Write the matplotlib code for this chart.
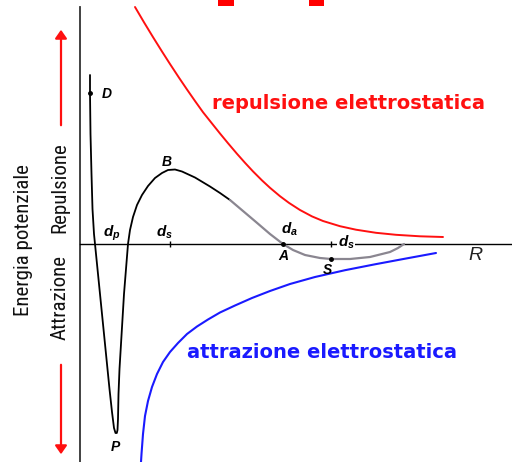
import numpy as np
import matplotlib.pyplot as plt
from matplotlib.patches import Rectangle

plt.rcParams['mathtext.fontset'] = 'custom'
plt.rcParams['mathtext.it'] = 'Liberation Sans:italic:bold'
plt.rcParams['mathtext.rm'] = 'Liberation Sans:bold'

# energia totale (buca P, barriera B, minimo secondario S)
tot_R = [0.100, 0.100, 0.105, 0.115, 0.125, 0.140, 0.155, 0.190, 0.225, 0.260, 0.295,
         0.320, 0.340, 0.355, 0.368, 0.375, 0.380, 0.385, 0.395, 0.410, 0.425, 0.440,
         0.460, 0.480, 0.500, 0.530, 0.570, 0.620, 0.680, 0.750, 0.820, 0.880, 0.950,
         1.020, 1.150, 1.300, 1.400, 1.500]
tot_E = [1.69, 1.51, 1.10, 0.70, 0.35, 0.10, -0.05, -0.40, -0.75, -1.10, -1.45,
         -1.68, -1.84, -1.89, -1.89, -1.86, -1.75, -1.50, -1.25, -1.00, -0.75, -0.50,
         -0.25, 0.00, 0.14, 0.27, 0.39, 0.49, 0.58, 0.66, 0.71, 0.74, 0.745,
         0.725, 0.665, 0.575, 0.51, 0.44]
coda_R = [1.50, 1.63, 1.76, 1.90, 2.03, 2.13, 2.25, 2.40, 2.51, 2.70, 2.90, 3.10, 3.18, 3.24]
coda_E = [0.44, 0.33, 0.22, 0.10, 0.00, -0.06, -0.11, -0.14, -0.15, -0.15, -0.13, -0.08, -0.04, 0.00]

# repulsione elettrostatica
rep_R = [0.55, 0.64, 0.73, 0.82, 0.90, 0.99, 1.07, 1.15, 1.23, 1.32, 1.40, 1.48, 1.57, 1.65,
         1.73, 1.82, 1.90, 2.00, 2.09, 2.20, 2.32, 2.43, 2.60, 2.76, 2.96, 3.16, 3.40, 3.63]
rep_E = [2.370, 2.217, 2.069, 1.925, 1.800, 1.663, 1.545, 1.430, 1.318, 1.205, 1.105, 1.008,
         0.902, 0.812, 0.726, 0.636, 0.562, 0.478, 0.411, 0.340, 0.276, 0.230, 0.178, 0.143,
         0.112, 0.092, 0.077, 0.070]

# attrazione elettrostatica
att_R = [0.605, 0.615, 0.63, 0.65, 0.68, 0.72, 0.77, 0.83, 0.90, 0.98, 1.07, 1.17, 1.28,
         1.40, 1.55, 1.72, 1.90, 2.10, 2.35, 2.65, 2.95, 3.25, 3.56]
att_E = [-2.26, -2.10, -1.90, -1.72, -1.57, -1.43, -1.30, -1.18, -1.08, -0.99, -0.90, -0.825,
         -0.755, -0.685, -0.615, -0.54, -0.47, -0.40, -0.33, -0.262, -0.203, -0.147, -0.09]

# punti notevoli
punti_R = [0.10, 2.03, 2.51]
punti_E = [1.51, 0.00, -0.15]
tacche_R = [0.90, 2.51]

# frammenti del titolo tagliato in alto
titolo_R = [1.38, 2.29]
titolo_w = [0.16, 0.15]

fig = plt.figure(figsize=(5.12, 4.62), dpi=100)
ax = fig.add_axes([0, 0, 1, 1])
ax.set_xlim(-0.80, 4.32)
ax.set_ylim(-2.18, 2.44)
ax.axis('off')

# assi
ax.plot([0, 0], [2.37, -2.30], color='#333333', lw=1.3)
ax.plot([0, 4.5], [0, 0], color='black', lw=1.0)

linea = dict(solid_joinstyle='round', solid_capstyle='round')
ax.plot(rep_R, rep_E, color='#ff1010', lw=1.4, **linea)
ax.plot(att_R, att_E, color='#1a1aff', lw=1.5, **linea)
ax.plot(tot_R, tot_E, color='black', lw=1.3, **linea)
ax.plot(coda_R, coda_E, color='#8a8690', lw=1.6, **linea)
ax.plot(punti_R, punti_E, 'o', color='black', ms=2.5)
ax.plot(tacche_R, [0] * len(tacche_R), '|', color='black', ms=5, mew=1)

for x, w in zip(titolo_R, titolo_w):
    ax.add_patch(Rectangle((x, 2.38), w, 0.08, color='#ff0000', lw=0))

# frecce rosse
freccia = dict(arrowstyle='-|>,head_length=0.5,head_width=0.35', color='#ff1010', lw=1.6)
ax.annotate('', xy=(-0.19, 2.17), xytext=(-0.19, 1.16), arrowprops=freccia)
ax.annotate('', xy=(-0.19, -2.13), xytext=(-0.19, -1.18), arrowprops=freccia)

narrow = ['Liberation Sans Narrow', 'DejaVu Sans Condensed', 'Roboto Condensed',
          'Liberation Sans']
etichetta = dict(rotation=90, ha='center', va='center', fontsize=15, family=narrow,
                 fontstretch='condensed', color='#111111')
ax.text(-0.20, 0.56, 'Repulsione', **etichetta)
ax.text(-0.20, -0.54, 'Attrazione', **etichetta)
ax.text(-0.56, 0.04, 'Energia potenziale', **etichetta)

ax.text(1.32, 1.35, 'repulsione elettrostatica', ha='left', va='baseline',
        fontsize=14, fontweight='bold', family='DejaVu Sans', color='#ff1010')
ax.text(1.07, -1.14, 'attrazione elettrostatica', ha='left', va='baseline',
        fontsize=14, fontweight='bold', family='DejaVu Sans', color='#1a1aff')

lettera = dict(ha='center', va='center', fontsize=10, fontweight='bold',
               fontstyle='italic', family='Liberation Sans', color='black')
ax.text(0.27, 1.50, 'D', **lettera)
ax.text(0.87, 0.82, 'B', **lettera)
ax.text(0.35, -2.03, 'P', **lettera)
ax.text(2.03, -0.12, 'A', **lettera)
ax.text(2.475, -0.26, 'S', **lettera)
ax.text(3.95, -0.12, 'R', ha='center', va='center', fontsize=14,
        fontstyle='italic', family='Liberation Sans', color='#222222')

ax.text(0.32, 0.11, '$d_p$', ha='center', va='center', fontsize=11)
ax.text(0.84, 0.12, '$d_s$', ha='center', va='center', fontsize=11)
ax.text(2.09, 0.15, '$d_a$', ha='center', va='center', fontsize=11)
ax.text(2.66, 0.02, '$d_s$', ha='center', va='center', fontsize=11,
        bbox=dict(facecolor='white', edgecolor='none', pad=0.5))

fig.savefig('out.png', dpi=100)
